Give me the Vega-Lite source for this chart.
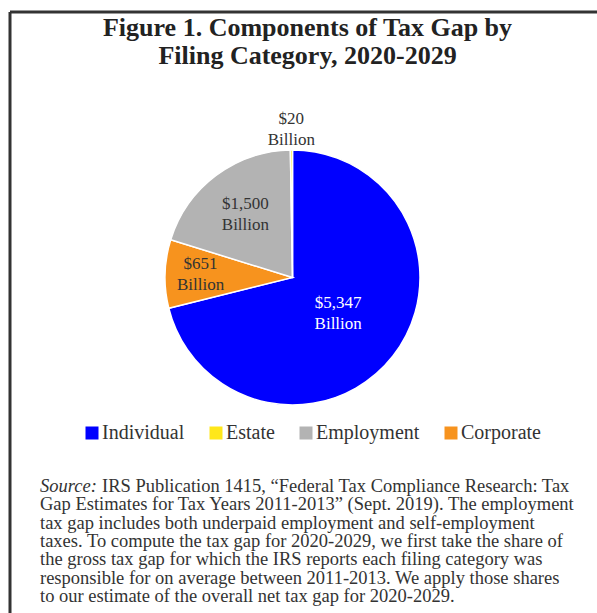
{
  "$schema": "https://vega.github.io/schema/vega-lite/v6.json",
  "width": 587,
  "height": 601,
  "autosize": {"type": "none"},
  "padding": {"left": 10, "top": 12, "right": 0, "bottom": 0},
  "background": "white",
  "config": {"view": {"stroke": null}, "font": "Liberation Serif"},
  "title": {
    "text": ["Figure 1. Components of Tax Gap by", "Filing Category, 2020-2029"],
    "font": "Liberation Serif",
    "fontSize": 26,
    "fontWeight": "bold",
    "color": "#222",
    "lineHeight": 28,
    "anchor": "middle",
    "frame": "group",
    "offset": -58,
    "dx": 4
  },
  "datasets": {
    "slices": [
      {"category": "Individual", "value": 5347, "label": "$5,347\nBillion"},
      {"category": "Corporate", "value": 651, "label": "$651\nBillion"},
      {"category": "Employment", "value": 1500, "label": "$1,500\nBillion"},
      {"category": "Estate", "value": 20, "label": "$20\nBillion"}
    ],
    "note": [
      {"line": 1, "text": "IRS Publication 1415, “Federal Tax Compliance Research: Tax"},
      {"line": 2, "text": "Gap Estimates for Tax Years 2011-2013” (Sept. 2019). The employment"},
      {"line": 3, "text": "tax gap includes both underpaid employment and self-employment"},
      {"line": 4, "text": "taxes. To compute the tax gap for 2020-2029, we first take the share of"},
      {"line": 5, "text": "the gross tax gap for which the IRS reports each filing category was"},
      {"line": 6, "text": "responsible for on average between 2011-2013. We apply those shares"},
      {"line": 7, "text": "to our estimate of the overall net tax gap for 2020-2029."}
    ],
    "noteLead": [{"line": 1, "text": "Source:"}],
    "frame": [{}]
  },
  "layer": [
    {
      "data": {"name": "frame"},
      "mark": {"type": "rule", "stroke": "#333", "strokeWidth": 3},
      "encoding": {"x": {"value": 0}}
    },
    {
      "data": {"name": "frame"},
      "mark": {"type": "rule", "stroke": "#333", "strokeWidth": 3},
      "encoding": {"y": {"value": 0}}
    },
    {
      "data": {"name": "slices"},
      "transform": [{"window": [{"op": "row_number", "as": "order"}]}],
      "mark": {"type": "arc", "outerRadius": 127.5, "stroke": "white", "strokeWidth": 1.5},
      "encoding": {
        "theta": {"field": "value", "type": "quantitative", "stack": true},
        "order": {"field": "order", "type": "quantitative"},
        "color": {
          "field": "category",
          "type": "nominal",
          "scale": {
            "domain": ["Individual", "Estate", "Employment", "Corporate"],
            "range": ["#0000FF", "#FFE71A", "#B3B3B3", "#F7931E"]
          },
          "legend": {
            "title": null,
            "orient": "none",
            "legendX": 72,
            "legendY": 411,
            "direction": "horizontal",
            "symbolType": "square",
            "symbolSize": 169,
            "symbolStrokeWidth": 0,
            "labelFont": "Liberation Serif",
            "labelFontSize": 20,
            "labelColor": "#333",
            "columnPadding": 21,
            "labelOffset": 0
          }
        },
        "x": {"value": 282.5},
        "y": {"value": 265.5}
      }
    },
    {
      "data": {"name": "slices"},
      "transform": [{"window": [{"op": "row_number", "as": "order"}]}],
      "mark": {
        "type": "text",
        "font": "Liberation Serif",
        "fontSize": 17,
        "lineBreak": "\n",
        "lineHeight": 21,
        "align": "center",
        "baseline": "middle",
        "dy": -10.5
      },
      "encoding": {
        "theta": {"field": "value", "type": "quantitative", "stack": true},
        "order": {"field": "order", "type": "quantitative"},
        "radius": {
          "field": "value",
          "type": "quantitative",
          "scale": {"type": "log", "domain": [20, 5347], "range": [148, 58]}
        },
        "text": {"field": "label", "type": "nominal"},
        "fill": {
          "condition": {"test": "datum.category === 'Individual'", "value": "white"},
          "value": "#333"
        },
        "x": {"value": 282.5},
        "y": {"value": 265.5}
      }
    },
    {
      "data": {"name": "noteLead"},
      "mark": {
        "type": "text",
        "align": "left",
        "baseline": "alphabetic",
        "font": "Liberation Serif",
        "fontSize": 18.5,
        "fontStyle": "italic",
        "color": "#333"
      },
      "encoding": {
        "x": {"value": 30},
        "y": {"field": "line", "type": "ordinal", "scale": {"type": "point", "range": [480, 590], "padding": 0}, "axis": null},
        "text": {"field": "text", "type": "nominal"}
      }
    },
    {
      "data": {"name": "note"},
      "transform": [{"filter": "datum.line === 1"}],
      "mark": {
        "type": "text",
        "align": "left",
        "baseline": "alphabetic",
        "font": "Liberation Serif",
        "fontSize": 18.5,
        "dx": 62,
        "color": "#333"
      },
      "encoding": {
        "x": {"value": 30},
        "y": {"field": "line", "type": "ordinal", "axis": null},
        "text": {"field": "text", "type": "nominal"}
      }
    },
    {
      "data": {"name": "note"},
      "transform": [{"filter": "datum.line > 1"}],
      "mark": {
        "type": "text",
        "align": "left",
        "baseline": "alphabetic",
        "font": "Liberation Serif",
        "fontSize": 18.5,
        "color": "#333"
      },
      "encoding": {
        "x": {"value": 30},
        "y": {"field": "line", "type": "ordinal", "axis": null},
        "text": {"field": "text", "type": "nominal"}
      }
    }
  ]
}
